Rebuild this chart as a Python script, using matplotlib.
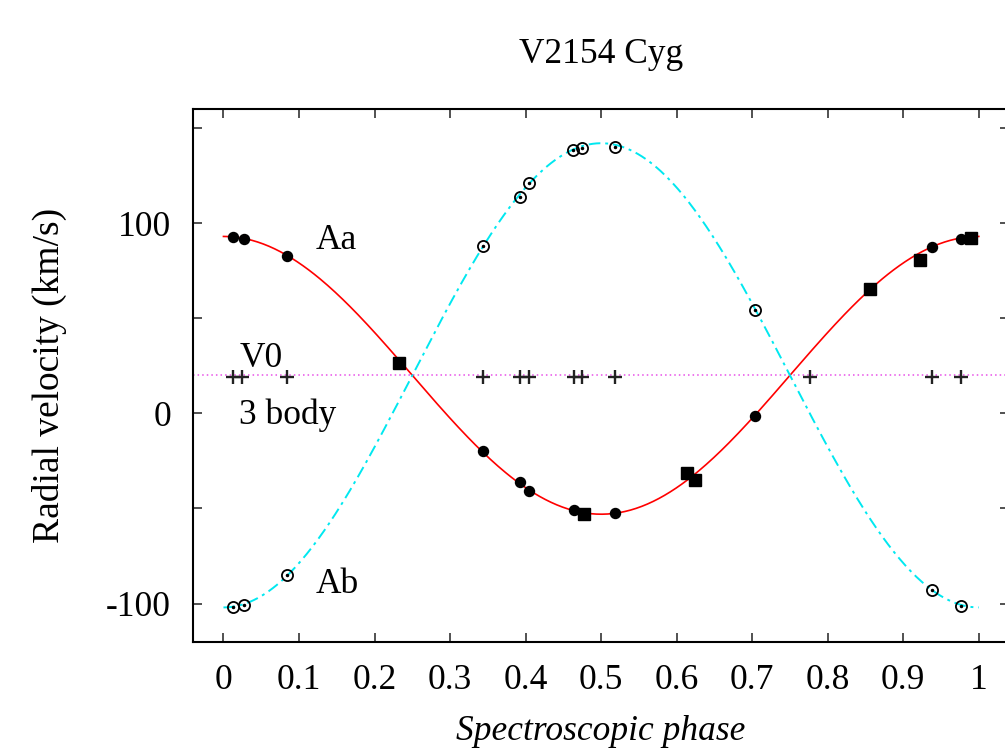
import numpy as np
import matplotlib
matplotlib.use("Agg")
import matplotlib.pyplot as plt

plt.rcParams["font.family"] = ["Liberation Serif", "DejaVu Serif"]

# orbit solution (circular): v = V0 +/- K cos(2 pi phase)
V0 = 20.0
K_AA = 73.0
K_AB = 122.0

# component Aa, filled circles
aa_circ_phase = [0.013, 0.027, 0.084, 0.343, 0.392, 0.405, 0.464, 0.519, 0.704, 0.938, 0.977]
aa_circ_rv = [92.5, 91.4, 82.5, -19.6, -36.3, -40.6, -50.8, -52.4, -1.2, 87.6, 91.8]
# component Aa, filled squares
aa_sq_phase = [0.232, 0.477, 0.614, 0.624, 0.856, 0.922, 0.990]
aa_sq_rv = [26.5, -52.9, -31.3, -34.8, 65.2, 80.8, 92.2]
# component Ab, open circles
ab_phase = [0.013, 0.027, 0.084, 0.343, 0.392, 0.405, 0.463, 0.474, 0.519, 0.704, 0.938, 0.977]
ab_rv = [-101.6, -100.9, -84.9, 87.8, 113.7, 121.1, 138.6, 139.5, 139.8, 54.5, -92.8, -101.4]
# third body
b3_phase = [0.013, 0.024, 0.084, 0.343, 0.392, 0.405, 0.464, 0.475, 0.519, 0.777, 0.938, 0.977]
b3_rv = [19.3] * 12

x_ticks = [0, 0.1, 0.2, 0.3, 0.4, 0.5, 0.6, 0.7, 0.8, 0.9, 1.0]
x_labels = ["0", "0.1", "0.2", "0.3", "0.4", "0.5", "0.6", "0.7", "0.8", "0.9", "1"]
y_ticks = [-100, -50, 0, 50, 100, 150]
y_labels = ["-100", "", "0", "", "100", ""]

FS = 25.5

fig = plt.figure(figsize=(10.05, 7.49), dpi=100)
ax = fig.add_axes([0.1923, 0.1433, 0.8117, 0.7112])

ph = np.linspace(0, 1, 400)
ax.axhline(V0, color="#e850e8", lw=1.1, ls=(0, (1, 2)), zorder=1)
ax.plot(ph, V0 + K_AA * np.cos(2 * np.pi * ph), color="red", lw=1.2, zorder=2)
ax.plot(ph, V0 - K_AB * np.cos(2 * np.pi * ph), color="#00e8f0", lw=1.4,
        ls=(0, (6, 2.5, 1.5, 2.5)), zorder=2)

ax.plot(aa_circ_phase, aa_circ_rv, "o", color="black", ms=7.2, zorder=4)
ax.plot(aa_sq_phase, aa_sq_rv, "s", color="black", ms=8.0, zorder=4)
ax.plot(ab_phase, ab_rv, "o", mfc="none", mec="black", mew=1.3, ms=8.0, zorder=4)
ax.plot(ab_phase, ab_rv, "o", color="black", ms=1.5, zorder=5)
ax.plot(b3_phase, b3_rv, "+", color="#222222", ms=9.5, mew=1.7, zorder=4)

ax.text(0.122, 91, "Aa", fontsize=FS, ha="left", va="center")
ax.text(0.122, -90, "Ab", fontsize=FS, ha="left", va="center")
ax.text(0.022, 29, "V0", fontsize=FS, ha="left", va="center")
ax.text(0.021, -1, "3 body", fontsize=FS, ha="left", va="center")

ax.set_xlim(-0.04, 1.04)
ax.set_ylim(-120, 160)
ax.set_xticks(x_ticks)
ax.set_xticklabels(x_labels)
ax.set_yticks(y_ticks)
ax.set_yticklabels(y_labels)
ax.tick_params(direction="in", length=6.5, width=1.2, top=True, right=True,
               labelsize=FS, pad=16, color="#333333")
for s in ax.spines.values():
    s.set_linewidth(1.5)

ax.set_ylabel("Radial velocity (km/s)", fontsize=27, labelpad=28)
ax.set_xlabel("Spectroscopic phase", fontsize=FS, style="italic", labelpad=13)
ax.set_title("V2154 Cyg", fontsize=FS, pad=33)

fig.savefig("out.png", dpi=100)
